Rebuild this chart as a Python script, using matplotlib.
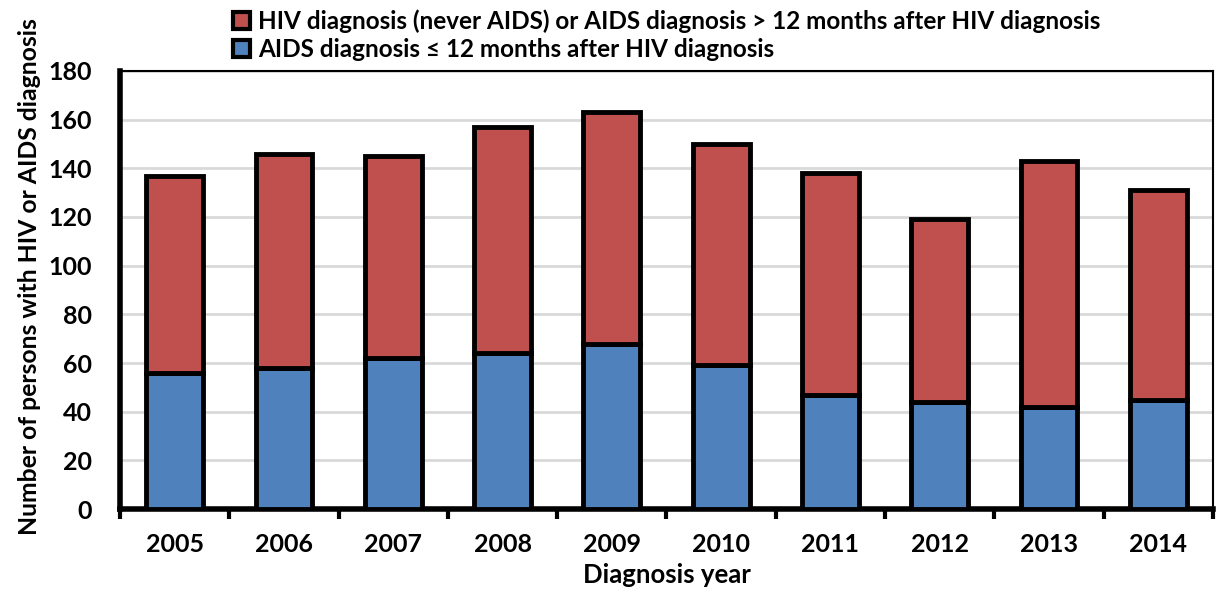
import matplotlib.pyplot as plt
import numpy as np
from matplotlib.patches import Patch

# data
years = ["2005", "2006", "2007", "2008", "2009", "2010", "2011", "2012", "2013", "2014"]
aids_within_12m = [56, 58, 62, 64, 68, 59, 47, 44, 42, 45]
total = [137, 146, 145, 157, 163, 150, 138, 119, 143, 131]
hiv_other = [t - a for t, a in zip(total, aids_within_12m)]

label_red = "HIV diagnosis (never AIDS) or AIDS diagnosis > 12 months after HIV diagnosis"
label_blue = "AIDS diagnosis \u2264 12 months after HIV diagnosis"

plt.rcParams['font.family'] = ['Lato', 'DejaVu Sans']
plt.rcParams['font.weight'] = 'bold'

red = "#C0504D"
blue = "#4F81BD"

fig = plt.figure(figsize=(12.22, 5.91), dpi=100)
ax = fig.add_axes([0.0982, 0.1387, 0.8944, 0.7412])

x = np.arange(len(years))
w = 0.52
ax.bar(x, aids_within_12m, w, color=blue, edgecolor="black", linewidth=3.5, zorder=3)
ax.bar(x, hiv_other, w, bottom=aids_within_12m, color=red, edgecolor="black",
       linewidth=3.5, zorder=3)

ax.set_xlim(-0.5, len(years) - 0.5)
ax.set_ylim(0, 180)
ax.set_yticks(range(0, 181, 20))
ax.yaxis.grid(True, color="#D9D9D9", linewidth=2, zorder=0)
ax.set_axisbelow(True)

ax.set_xticks(x)
ax.set_xticklabels(years, fontsize=18, fontweight="bold")
ax.set_xticks(np.arange(-0.5, len(years), 1), minor=True)
ax.tick_params(axis="x", which="major", length=0, pad=17)
ax.tick_params(axis="x", which="minor", length=7, width=3, direction="out")
ax.tick_params(axis="y", length=0, pad=20, labelsize=18)
for lab in ax.get_yticklabels():
    lab.set_fontweight("bold")

for s in ["left", "bottom"]:
    ax.spines[s].set_linewidth(4)
for s in ["top", "right"]:
    ax.spines[s].set_linewidth(1.5)

ax.set_xlabel("Diagnosis year", fontsize=18.5, fontweight="bold", labelpad=5)
ax.set_ylabel("Number of persons with HIV or AIDS diagnosis", fontsize=17.8,
              fontweight="bold")
ax.yaxis.set_label_coords(-0.072, 0.53)

handles = [Patch(facecolor=red, edgecolor="black", linewidth=3),
           Patch(facecolor=blue, edgecolor="black", linewidth=3)]
fig.legend(handles, [label_red, label_blue], loc="upper left",
           bbox_to_anchor=(0.183, 1.0), frameon=False, fontsize=17.5,
           handlelength=0.7, handleheight=0.7, handletextpad=0.3,
           labelspacing=0.2, borderaxespad=0)

fig.savefig("out.png", dpi=100)
